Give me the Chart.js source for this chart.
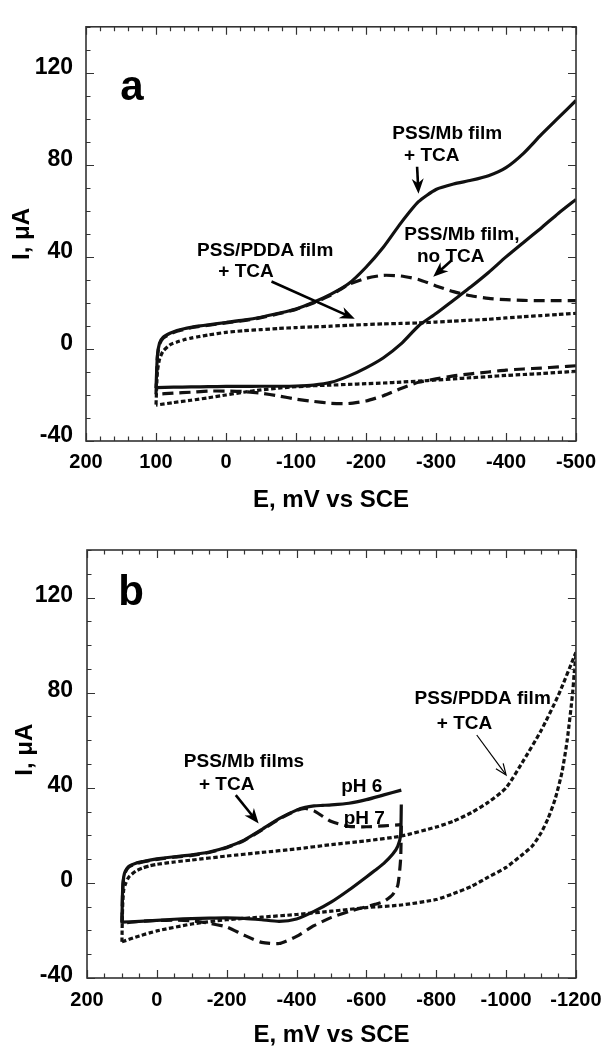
<!DOCTYPE html>
<html>
<head>
<meta charset="utf-8">
<script src="https://cdn.jsdelivr.net/npm/chart.js@4.4.1/dist/chart.umd.min.js"></script>
<style>
  html, body { margin: 0; padding: 0; background: #fff; }
  #wrap { position: relative; width: 612px; height: 1049px; }
  #panelA { position: absolute; left: 0; top: 0; }
  #panelB { position: absolute; left: 0; top: 520px; }
</style>
</head>
<body>
<div id="wrap">
  <canvas id="panelA" width="612" height="520"></canvas>
  <canvas id="panelB" width="612" height="529"></canvas>
</div>
<script>
// ---- panel a : E (mV) grids for the cathodic (fwd) and return (rev) scans, I in uA
const aPotFwd   = [100, 98, 95, 90, 80, 70, 60, 50, 40, 25, 0, -25, -50, -75, -100, -125, -150, -175, -200, -225, -250, -275, -300, -325, -350, -375, -400, -425, -450, -475, -500];
const aMbTcaFwd = [-17, -3, 2.5, 5, 6.8, 8, 8.8, 9.4, 9.9, 10.5, 11.5, 12.5, 13.8, 15.5, 17.4, 20.3, 23.8, 28.3, 35.5, 44.3, 54.8, 64, 69.3, 71.7, 73.3, 75.3, 78.8, 85, 93, 100.5, 108];
const aMbFwd    = [-19.7, -3.5, 2, 4.6, 6.5, 7.7, 8.5, 9.2, 9.7, 10.3, 11.3, 12.3, 13.6, 15.3, 17.2, 20, 23.4, 28, 30.7, 32, 31.7, 30.2, 27.4, 24.9, 23.1, 22, 21.4, 21.1, 21, 21, 21];
const aPddaFwd  = [-24.2, -10, -4.5, -1, 1.8, 3, 4, 4.7, 5.3, 6.1, 7.2, 7.9, 8.4, 8.9, 9.3, 9.6, 9.9, 10.3, 10.6, 10.9, 11.1, 11.3, 11.7, 12.1, 12.5, 12.9, 13.5, 14, 14.5, 15, 15.5];

const aPotRev   = [-500, -475, -450, -425, -400, -375, -350, -325, -300, -275, -250, -225, -200, -175, -150, -125, -100, -75, -50, -25, 0, 25, 50, 75, 100];
const aMbTcaRev = [65, 59, 52.5, 46.3, 40, 33.2, 27, 21.2, 15.4, 10, 2.2, -3.8, -8.2, -11.8, -14.5, -15.7, -16.1, -16.2, -16.2, -16.3, -16.3, -16.4, -16.5, -16.6, -16.8];
const aMbRev    = [-7.3, -7.8, -8.3, -8.7, -9.2, -10, -10.8, -11.7, -13, -14.5, -17.2, -20.3, -22.6, -23.7, -23.6, -22.8, -21.8, -20.4, -19.2, -18.5, -18.3, -18.3, -18.8, -19.2, -19.7];
const aPddaRev  = [-9.7, -10.2, -10.7, -11.1, -11.5, -12, -12.5, -13, -13.5, -14, -14.4, -14.8, -15.1, -15.4, -15.7, -16, -16.4, -17, -17.8, -18.8, -20, -21.2, -22.3, -23.3, -24.4];

// ---- panel b
const bPotFwd  = [100, 98, 95, 90, 80, 60, 40, 20, 0, -50, -100, -150, -200, -250, -300, -350, -400, -425, -450, -475, -500, -550, -600, -650, -700];
const bPh6Fwd  = [-16.5, -3, 2.5, 5, 7, 8.3, 9, 9.6, 10.1, 11, 11.8, 13, 15, 18, 22.4, 27, 30.6, 31.8, 32.4, 32.6, 32.8, 33.5, 35, 37, 39];
const bPh7Fwd  = [-17, -3.5, 2, 4.6, 6.7, 8, 8.8, 9.4, 9.9, 10.8, 11.6, 12.8, 14.8, 17.8, 22.2, 26.8, 30.5, 31.3, 30.3, 28, 25.8, 23.8, 23.6, 24, 24.5];

const bPotRev  = [-700, -698, -690, -675, -650, -625, -600, -550, -500, -450, -400, -350, -300, -250, -200, -150, -100, -50, 0, 50, 100];
const bPh6Rev  = [33, 20, 15.5, 12, 8.2, 5.3, 2.5, -3, -8, -12, -15.2, -16.2, -15.5, -14.9, -14.7, -14.8, -15, -15.3, -15.8, -16.2, -16.5];
const bPh7Rev  = [24, 10, -1, -5, -7.8, -9, -10, -12, -14.5, -18, -22.5, -25.5, -25, -22, -18.5, -17, -15.9, -15.7, -15.8, -16.2, -17];

const bPddaPotFwd = [100, 98, 95, 90, 80, 60, 40, 20, 0, -50, -100, -200, -300, -400, -500, -600, -700, -800, -850, -900, -950, -1000, -1050, -1100, -1150, -1200];
const bPddaFwd    = [-24.8, -10, -3, -0.5, 2.5, 5, 6.3, 7.2, 7.8, 8.8, 9.6, 11.3, 12.8, 14.3, 16.1, 17.7, 19.7, 23.5, 26, 29.5, 34, 40, 51.5, 64, 79, 97];
const bPddaPotRev = [-1200, -1195, -1190, -1175, -1160, -1140, -1120, -1100, -1075, -1050, -1000, -950, -900, -850, -800, -700, -600, -500, -400, -300, -200, -100, 0, 50, 100];
const bPddaRev    = [96, 88, 79, 60, 46.5, 35, 27, 21, 15.5, 12.3, 6.5, 2.5, -1.5, -4.5, -7, -9.3, -10.4, -11.9, -13.3, -14.4, -15.5, -17.3, -20.2, -22.3, -24.8];

// tick labels
const aXTicks = [200, 100, 0, -100, -200, -300, -400, -500];
const bXTicks = [200, 0, -200, -400, -600, -800, -1000, -1200];
const yTicks  = [-40, 0, 40, 80, 120];

const FONT = '"Liberation Sans", Arial, Helvetica, sans-serif';

function pts(xs, ys) {
  return xs.map((v, i) => ({ x: v, y: ys[i] }));
}

function curve(xs, ys, style) {
  const dash = { solid: [], dashed: [11, 6], dotted: [4.5, 2.5] }[style];
  return {
    data: pts(xs, ys),
    borderColor: '#111',
    borderWidth: 3.2,
    borderDash: dash,
    borderCapStyle: 'butt',
    borderJoinStyle: 'round',
    pointRadius: 0,
    tension: 0.2,
    fill: false
  };
}

// inward major/minor ticks on all four sides, plus the box
function makeFrame(xMinor, xMajor, yMinor, yMajor) {
  return {
    id: 'frame',
    afterDatasetsDraw(chart) {
      const { ctx, chartArea: a, scales: { x, y } } = chart;
      ctx.save();
      ctx.strokeStyle = '#333';
      ctx.lineWidth = 1.2;
      ctx.beginPath();
      for (let v = x.min; v <= x.max; v += xMinor) {
        const px = Math.round(x.getPixelForValue(v)) + 0.5;
        const len = v % xMajor === 0 ? 8 : 4.5;
        ctx.moveTo(px, a.bottom); ctx.lineTo(px, a.bottom - len);
        ctx.moveTo(px, a.top); ctx.lineTo(px, a.top + len);
      }
      for (let v = y.min; v <= y.max; v += yMinor) {
        const py = Math.round(y.getPixelForValue(v)) + 0.5;
        const len = v % yMajor === 0 ? 8 : 4.5;
        ctx.moveTo(a.left, py); ctx.lineTo(a.left + len, py);
        ctx.moveTo(a.right, py); ctx.lineTo(a.right - len, py);
      }
      ctx.stroke();
      ctx.lineWidth = 1.6;
      ctx.strokeRect(a.left, a.top, a.right - a.left, a.bottom - a.top);
      ctx.restore();
    }
  };
}

function arrow(ctx, x0, y0, x1, y1, thin) {
  const ang = Math.atan2(y1 - y0, x1 - x0);
  const c = Math.cos(ang), s = Math.sin(ang);
  const head = thin ? 11 : 15, half = thin ? 4.5 : 6;
  ctx.lineWidth = thin ? 1.2 : 2.6;
  ctx.beginPath();
  ctx.moveTo(x0, y0);
  ctx.lineTo(x1 - c * (thin ? 1 : head * 0.6), y1 - s * (thin ? 1 : head * 0.6));
  ctx.stroke();
  const bx = x1 - c * head, by = y1 - s * head;
  const nx = -s * half, ny = c * half;
  ctx.beginPath();
  if (thin) {
    ctx.moveTo(bx + nx, by + ny); ctx.lineTo(x1, y1); ctx.lineTo(bx - nx, by - ny);
    ctx.stroke();
  } else {
    ctx.moveTo(x1, y1);
    ctx.lineTo(bx + nx, by + ny);
    ctx.lineTo(x1 - c * head * 0.7, y1 - s * head * 0.7);
    ctx.lineTo(bx - nx, by - ny);
    ctx.closePath();
    ctx.fill();
  }
}

// panel letter, y title, labels and arrows, placed through the scales
function makeNotes(cfg) {
  return {
    id: 'notes',
    afterDatasetsDraw(chart) {
      const { ctx, scales: { x, y } } = chart;
      const X = v => x.getPixelForValue(v), Y = v => y.getPixelForValue(v);
      ctx.save();
      ctx.fillStyle = '#000';
      ctx.strokeStyle = '#000';
      ctx.font = 'bold 42px ' + FONT;
      ctx.textAlign = 'left';
      ctx.textBaseline = 'alphabetic';
      ctx.fillText(cfg.letter.text, X(cfg.letter.x), Y(cfg.letter.y));

      ctx.save();
      ctx.font = 'bold 24px ' + FONT;
      ctx.textAlign = 'center';
      ctx.textBaseline = 'middle';
      ctx.translate(cfg.yTitle.left, Y(cfg.yTitle.at));
      ctx.rotate(-Math.PI / 2);
      ctx.fillText('I, μA', 0, 0);
      ctx.restore();

      ctx.font = 'bold 19px ' + FONT;
      ctx.textAlign = 'center';
      ctx.textBaseline = 'middle';
      cfg.notes.forEach(n => ctx.fillText(n.text, X(n.x), Y(n.y)));
      cfg.arrows.forEach(a => arrow(ctx, X(a.from[0]), Y(a.from[1]), X(a.to[0]), Y(a.to[1]), a.thin));
      ctx.restore();
    }
  };
}

function axes(p) {
  return {
    x: {
      type: 'linear', min: p.xMin, max: 200, reverse: true,
      afterBuildTicks: s => { s.ticks = p.xTicks.map(v => ({ value: v })); },
      afterFit: s => { s.height = p.xHeight; },
      grid: { display: false, drawTicks: false },
      border: { display: false },
      ticks: {
        autoSkip: false, maxRotation: 0, minRotation: 0, padding: p.xPad, color: '#000',
        font: { family: FONT, size: 20, weight: 'bold' },
        callback: v => String(v)
      },
      title: {
        display: true, text: 'E, mV vs SCE', color: '#000',
        font: { family: FONT, size: 24, weight: 'bold', lineHeight: 1 },
        padding: { top: 0, bottom: p.titlePad }
      }
    },
    y: {
      type: 'linear', min: -40, max: 140,
      afterBuildTicks: s => { s.ticks = yTicks.map(v => ({ value: v })); },
      afterFit: s => { s.width = p.yWidth; },
      grid: { display: false, drawTicks: false },
      border: { display: false },
      ticks: {
        padding: p.yPad, labelOffset: p.yLabelOffset, color: '#000',
        font: { family: FONT, size: 23, weight: 'bold' },
        callback: v => String(v)
      }
    }
  };
}

function baseOptions(p) {
  return {
    responsive: false,
    animation: false,
    devicePixelRatio: 1,
    layout: { padding: { top: p.top, right: p.right, left: 0, bottom: 0 } },
    plugins: { legend: { display: false }, tooltip: { enabled: false } },
    scales: axes(p)
  };
}

const chartA = new Chart(document.getElementById('panelA'), {
  type: 'line',
  data: {
    datasets: [
      curve(aPotFwd, aPddaFwd, 'dotted'),
      curve(aPotRev, aPddaRev, 'dotted'),
      curve(aPotFwd, aMbFwd, 'dashed'),
      curve(aPotRev, aMbRev, 'dashed'),
      curve(aPotFwd, aMbTcaFwd, 'solid'),
      curve(aPotRev, aMbTcaRev, 'solid')
    ]
  },
  options: baseOptions({ xMin: -500, xTicks: aXTicks, xHeight: 79, xPad: 9, titlePad: 8,
    yWidth: 86, yPad: 13, yLabelOffset: -5, top: 16, right: 36 }),
  plugins: [
    makeFrame(20, 100, 10, 40),
    makeNotes({
      letter: { text: 'a', x: 151, y: 108 },
      yTitle: { left: 22, at: 50 },
      notes: [
        { text: 'PSS/Mb film', x: -316, y: 93.5 },
        { text: '+ TCA', x: -294, y: 84 },
        { text: 'PSS/Mb film,', x: -337, y: 49.6 },
        { text: 'no TCA', x: -321, y: 40 },
        { text: 'PSS/PDDA film', x: -56, y: 42.6 },
        { text: '+ TCA', x: -28.6, y: 33.6 }
      ],
      arrows: [
        { from: [-273, 79.2], to: [-275, 67.5] },
        { from: [-322, 38.4], to: [-296, 31.4] },
        { from: [-65, 29.3], to: [-184, 13.1] }
      ]
    })
  ]
});

const chartB = new Chart(document.getElementById('panelB'), {
  type: 'line',
  data: {
    datasets: [
      curve(bPddaPotFwd, bPddaFwd, 'dotted'),
      curve(bPddaPotRev, bPddaRev, 'dotted'),
      curve(bPotFwd, bPh7Fwd, 'dashed'),
      curve(bPotRev, bPh7Rev, 'dashed'),
      curve(bPotFwd, bPh6Fwd, 'solid'),
      curve(bPotRev, bPh6Rev, 'solid')
    ]
  },
  options: baseOptions({ xMin: -1200, xTicks: bXTicks, xHeight: 71, xPad: 10.5, titlePad: 2,
    yWidth: 87, yPad: 14, yLabelOffset: -2, top: 30, right: 26 }),
  plugins: [
    makeFrame(50, 200, 10, 40),
    makeNotes({
      letter: { text: 'b', x: 110.5, y: 117 },
      yTitle: { left: 25, at: 56 },
      notes: [
        { text: 'PSS/Mb films', x: -249.5, y: 50.9 },
        { text: '+ TCA', x: -200, y: 41.1 },
        { text: 'pH 6', x: -587, y: 40.4 },
        { text: 'pH 7', x: -594, y: 27.1 },
        { text: 'PSS/PDDA film', x: -933, y: 77.6 },
        { text: '+ TCA', x: -881, y: 67.1 }
      ],
      arrows: [
        { from: [-226, 36.9], to: [-291.5, 25] },
        { from: [-916, 62.2], to: [-1000, 45.4], thin: true }
      ]
    })
  ]
});
</script>
</body>
</html>
